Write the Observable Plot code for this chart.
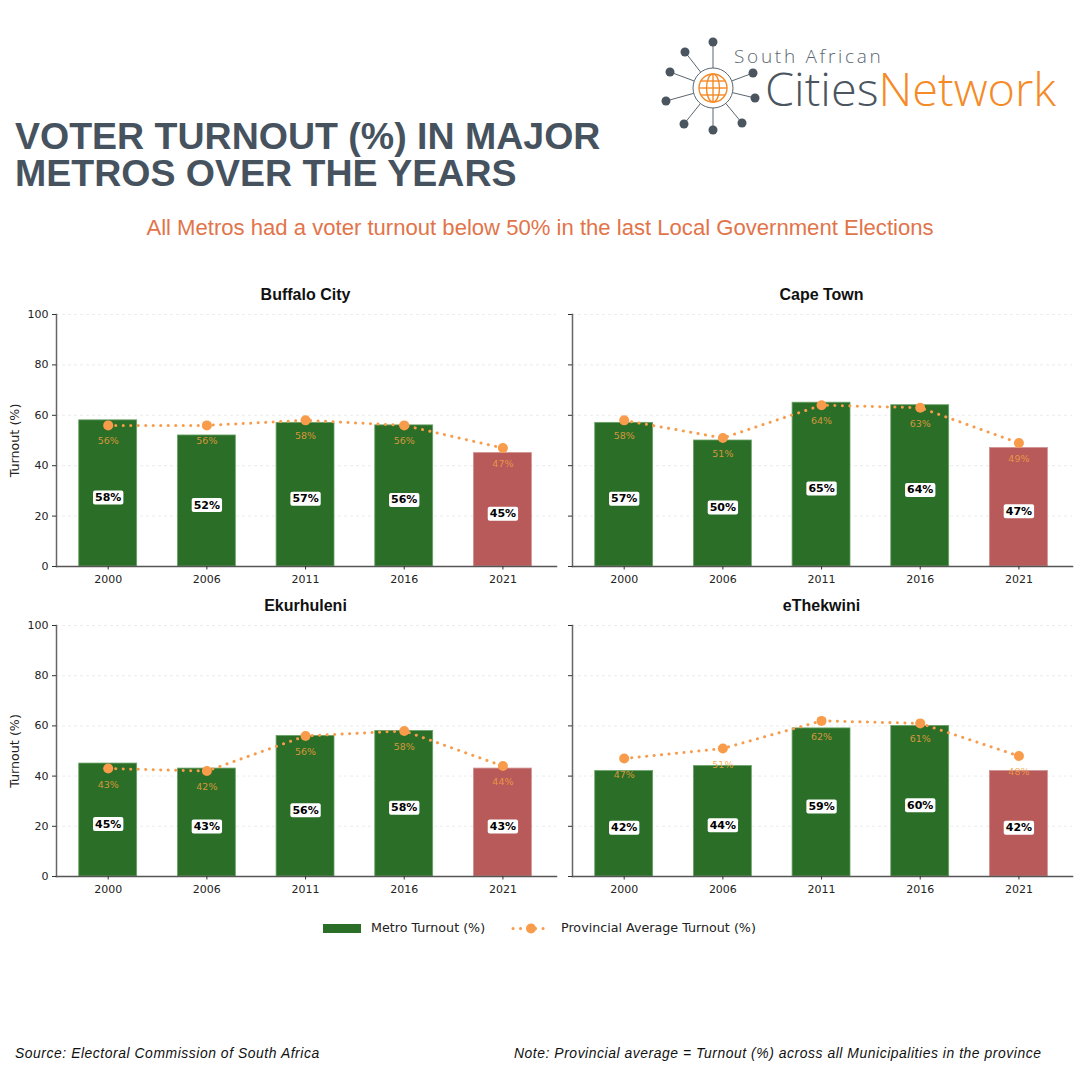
<!DOCTYPE html>
<html><head><meta charset="utf-8">
<script src="https://cdn.jsdelivr.net/npm/d3@7"></script>
<script src="https://cdn.jsdelivr.net/npm/@observablehq/plot@0.6"></script>
<style>
html,body{margin:0;padding:0;background:#fff;}
#page{position:relative;width:1080px;height:1080px;overflow:hidden;background:#fff;}
.abs{position:absolute;white-space:nowrap;}
#title{left:15px;top:118px;font:bold 37.5px/37px "Liberation Sans",sans-serif;color:#46535f;}
#sub{left:0;width:1080px;top:215px;text-align:center;font:22.1px/26px "Liberation Sans",sans-serif;color:#e2744a;}
.foot{top:1045px;font:italic 13.9px/16px "Liberation Sans",sans-serif;color:#111;letter-spacing:.55px;}
.leg{top:920px;font:12.7px/16px "DejaVu Sans",sans-serif;color:#222;}
</style></head><body><div id="page">
<svg id="logo" class="abs" style="left:0;top:0" width="1080" height="150"></svg>
<div id="title" class="abs">VOTER TURNOUT (%) IN MAJOR<br>METROS OVER THE YEARS</div>
<div id="sub" class="abs">All Metros had a voter turnout below 50% in the last Local Government Elections</div>
<svg class="abs" style="left:320px;top:918px" width="240" height="20">
<rect x="3" y="6" width="38" height="9" fill="#2a6e27"/>
<line x1="193" x2="226" y1="10.5" y2="10.5" stroke="#f89c4c" stroke-width="3" stroke-dasharray="0.1,7.4" stroke-linecap="round"/>
<circle cx="211" cy="10.5" r="5" fill="#f89c4c"/>
</svg>
<div class="abs leg" style="left:371px">Metro Turnout (%)</div>
<div class="abs leg" style="left:561px">Provincial Average Turnout (%)</div>
<div class="abs foot" style="left:15px">Source: Electoral Commission of South Africa</div>
<div class="abs foot" style="left:514px">Note: Provincial average = Turnout (%) across all Municipalities in the province</div>
</div>
<script>
const years = ["2000","2006","2011","2016","2021"];
const metroNames = ["Buffalo City","Cape Town","Ekurhuleni","eThekwini"];
const buffaloMetro = [58,52,57,56,45];
const buffaloProv = [56,56,58,56,47];
const capeMetro = [57,50,65,64,47];
const capeProv = [58,51,64,63,49];
const ekurhuleniMetro = [45,43,56,58,43];
const ekurhuleniProv = [43,42,56,58,44];
const ethekwiniMetro = [42,44,59,60,42];
const ethekwiniProv = [47,51,62,61,48];
const metroSeries = [buffaloMetro,capeMetro,ekurhuleniMetro,ethekwiniMetro];
const provSeries = [buffaloProv,capeProv,ekurhuleniProv,ethekwiniProv];
const yTicks = [0,20,40,60,80,100];

const page = document.getElementById("page");
const GREEN="#2a6e27", RED="#b85a5a", ORANGE="#f89c4c";

function panel(i){
  const left = i%2===0, top = i<2;
  const rows = years.map((y,k)=>({year:y,metro:metroSeries[i][k],prov:provSeries[i][k],last:y==="2021"}));
  const plot = Plot.plot({
    width: left?560:520,
    height: top?322:321,
    marginLeft: left?56:16, marginRight:4, marginTop:40, marginBottom:30,
    style:{background:"transparent",fontFamily:"'DejaVu Sans',sans-serif",fontSize:"11px",color:"#222",overflow:"visible"},
    x:{type:"band",domain:years,paddingInner:0.413,paddingOuter:0.24,align:0.48,round:false,label:null},
    y:{domain:[0,100],label:null},
    marks:[
      Plot.ruleY(yTicks.slice(1),{stroke:"#ddd",strokeWidth:0.8,strokeDasharray:"3,3",strokeOpacity:0.7}),
      Plot.barY(rows,{x:"year",y:"metro",fill:d=>d.last?RED:GREEN,stroke:d=>d.last?"#d09090":"#6aa367",strokeWidth:0.8}),
      Plot.line(rows,{x:"year",y:"prov",stroke:ORANGE,strokeWidth:3,strokeDasharray:"0.1,7.4",strokeLinecap:"round",curve:"linear"}),
      Plot.dot(rows,{x:"year",y:"prov",fill:ORANGE,r:5}),
      Plot.text(rows,{x:"year",y:"prov",text:d=>d.prov+"%",dy:16,fill:"#f5a040",fillOpacity:0.85,fontSize:9.5}),
      Plot.text(rows,{x:"year",y:d=>d.metro/2,text:d=>d.metro+"%",dy:4,fill:"#000",fontWeight:"bold",fontSize:11,className:"barlab"}),
      Plot.frame({anchor:"left",stroke:"#666",strokeWidth:1.5}),
      Plot.frame({anchor:"bottom",stroke:"#555",strokeWidth:1.5}),
      Plot.axisX({tickSize:3.5,tickPadding:5,label:null,stroke:"#333",fill:"#222"}),
      Plot.axisY({ticks:yTicks,tickSize:4,tickPadding:4,tickFormat:left?(d=>d):(()=>""),label:null,stroke:"#333",fill:"#222"}),
      ...(left?[Plot.text(["Turnout (%)"],{frameAnchor:"left",textAnchor:"middle",rotate:-90,dx:-42,fontSize:12.7,fill:"#222"})]:[]),
      Plot.text([metroNames[i]],{frameAnchor:"top",dy:-26,dx:-1,fontWeight:"bold",fontSize:16,fontFamily:"Liberation Sans",fill:"#111"})
    ]
  });
  plot.style.position="absolute";
  plot.style.left=(left?0:556)+"px";
  plot.style.top=(top?274:585)+"px";
  page.appendChild(plot);
  plot.querySelectorAll("g.barlab text, .barlab text").forEach(t=>{
    const b=t.getBBox();
    const r=document.createElementNS("http://www.w3.org/2000/svg","rect");
    r.setAttribute("x",b.x-2);r.setAttribute("y",b.y-0.5);
    r.setAttribute("width",b.width+4);r.setAttribute("height",b.height+1);
    r.setAttribute("rx",2);r.setAttribute("fill","#fff");
    if(t.getAttribute("transform"))r.setAttribute("transform",t.getAttribute("transform"));
    t.parentNode.insertBefore(r,t);
  });
}
metroNames.forEach((_,i)=>panel(i));

// logo
const nodes=[[713,42],[685,52],[670,72],[666,101],[684,124],[713,130],[742,123],[755,98],[753,73]];
const cx=713,cy=88,R=20;
let s="";
nodes.forEach(([x,y])=>{
  const a=Math.atan2(y-cy,x-cx);
  s+=`<line x1="${cx+R*Math.cos(a)}" y1="${cy+R*Math.sin(a)}" x2="${x}" y2="${y}" stroke="#5a6670" stroke-width="1"/>`;
  s+=`<circle cx="${x}" cy="${y}" r="4.5" fill="#4a5560"/>`;
});
s+=`<circle cx="${cx}" cy="${cy}" r="${R}" fill="#fff" stroke="#5a6670" stroke-width="1"/>`;
s+=`<g fill="none" stroke="#f58a27" stroke-width="1.4"><circle cx="${cx}" cy="${cy}" r="14"/><ellipse cx="${cx}" cy="${cy}" rx="6.5" ry="14"/><line x1="${cx}" x2="${cx}" y1="${cy-14}" y2="${cy+14}"/><line x1="${cx-14}" x2="${cx+14}" y1="${cy}" y2="${cy}"/><line x1="${cx-12}" x2="${cx+12}" y1="${cy-7}" y2="${cy-7}"/><line x1="${cx-12}" x2="${cx+12}" y1="${cy+7}" y2="${cy+7}"/></g>`;
s+=`<text x="734" y="63" font-family="Open Sans" font-weight="300" font-size="19" letter-spacing="2.7" fill="#5a6670">South African</text>`;
s+=`<text x="765" y="106" font-family="Open Sans" font-weight="300" font-size="46" textLength="291" lengthAdjust="spacingAndGlyphs"><tspan fill="#4a5560">Cities</tspan><tspan fill="#f58a27">Network</tspan></text>`;
document.getElementById("logo").innerHTML=s;
</script>
</body></html>
